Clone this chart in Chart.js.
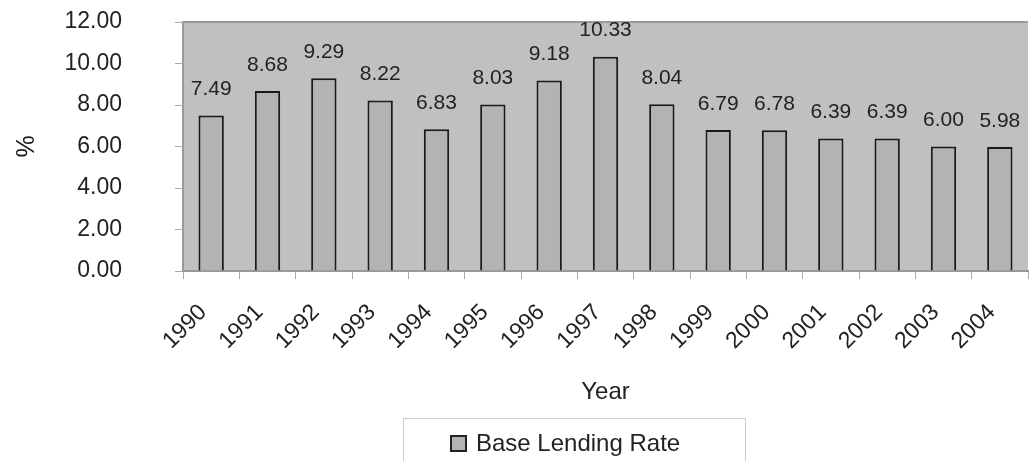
<!DOCTYPE html>
<html>
<head>
<meta charset="utf-8">
<script src="https://cdn.jsdelivr.net/npm/chart.js@4/dist/chart.umd.min.js"></script>
<style>
  body { margin: 0; background: #fff; }
  #wrap { width: 1029px; height: 461px; }
</style>
</head>
<body>
<div id="wrap"><canvas id="rate-chart" width="1029" height="461"></canvas></div>
<script>
// base lending rate per year
const years = ['1990', '1991', '1992', '1993', '1994', '1995', '1996', '1997', '1998', '1999', '2000', '2001', '2002', '2003', '2004'];
const rates = [7.49, 8.68, 9.29, 8.22, 6.83, 8.03, 9.18, 10.33, 8.04, 6.79, 6.78, 6.39, 6.39, 6.00, 5.98];
const yTicks = [0, 2, 4, 6, 8, 10, 12];

const textColor = '#222';
const fontName = '"Liberation Sans", Arial, sans-serif';

// grey plot area with a thin frame
const plotBackground = {
    id: 'plotBackground',
    beforeDraw(chart) {
        const ctx = chart.ctx;
        const a = chart.chartArea;
        ctx.save();
        ctx.fillStyle = '#c0c0c0';
        ctx.fillRect(a.left, a.top, a.right - a.left, a.bottom - a.top);
        ctx.strokeStyle = '#999';
        ctx.lineWidth = 2;
        ctx.beginPath();
        ctx.moveTo(a.left, a.bottom);
        ctx.lineTo(a.left, a.top);
        ctx.lineTo(a.right, a.top);
        ctx.stroke();
        ctx.restore();
    }
};

// value written above each bar
const barValues = {
    id: 'barValues',
    afterDatasetsDraw(chart) {
        const ctx = chart.ctx;
        const meta = chart.getDatasetMeta(0);
        ctx.save();
        ctx.font = '21px ' + fontName;
        ctx.fillStyle = textColor;
        ctx.textAlign = 'center';
        ctx.textBaseline = 'middle';
        meta.data.forEach((bar, i) => {
            ctx.fillText(rates[i].toFixed(2), bar.x, bar.y - 26);
        });
        ctx.restore();
    }
};

// boxed legend under the axis title
const boxLegend = {
    id: 'boxLegend',
    afterDraw(chart) {
        const ctx = chart.ctx;
        const ds = chart.data.datasets[0];
        ctx.save();
        ctx.strokeStyle = '#ccc';
        ctx.lineWidth = 1;
        ctx.strokeRect(403.5, 418.5, 342, 60);
        ctx.fillStyle = ds.backgroundColor;
        ctx.fillRect(451, 436, 15, 15);
        ctx.strokeStyle = textColor;
        ctx.lineWidth = 2;
        ctx.strokeRect(451, 436, 15, 15);
        ctx.font = '24px ' + fontName;
        ctx.fillStyle = textColor;
        ctx.textBaseline = 'middle';
        ctx.fillText(ds.label, 476, 444);
        ctx.restore();
    }
};

let rateChart = new Chart(document.getElementById('rate-chart'), {
    type: 'bar',
    data: {
        labels: years,
        datasets: [{
            label: 'Base Lending Rate',
            data: rates,
            backgroundColor: '#b3b3b3',
            borderColor: '#1a1a1a',
            borderWidth: 2,
            barPercentage: 0.5,
            categoryPercentage: 0.9
        }]
    },
    options: {
        responsive: false,
        animation: false,
        layout: {
            padding: { top: 22, right: 1, bottom: 40, left: 0 }
        },
        plugins: {
            legend: { display: false },
            tooltip: { enabled: false }
        },
        scales: {
            x: {
                grid: {
                    offset: true,
                    drawOnChartArea: false,
                    tickLength: 8,
                    color: '#aaa'
                },
                border: { color: '#999', width: 2 },
                ticks: {
                    maxRotation: 45,
                    minRotation: 45,
                    padding: 20,
                    labelOffset: -8,
                    color: textColor,
                    font: { family: fontName, size: 23 }
                },
                title: {
                    display: true,
                    text: 'Year',
                    color: textColor,
                    padding: { top: 0, bottom: 14 },
                    font: { family: fontName, size: 24 }
                },
                afterFit(scale) {
                    // plot runs right up to the edge
                    scale.height = 150;
                    scale.paddingLeft = 0;
                    scale.paddingRight = 0;
                }
            },
            y: {
                min: 0,
                max: 12,
                afterBuildTicks(scale) {
                    scale.ticks = yTicks.map(v => ({ value: v }));
                },
                grid: {
                    drawOnChartArea: false,
                    tickLength: 8,
                    color: '#aaa'
                },
                border: { display: false },
                ticks: {
                    padding: 53,
                    color: textColor,
                    font: { family: fontName, size: 23 },
                    callback: v => Number(v).toFixed(2)
                },
                title: {
                    display: true,
                    text: '%',
                    color: textColor,
                    padding: { top: 12, bottom: 0 },
                    font: { family: fontName, size: 25 }
                },
                afterFit(scale) {
                    // fixed axis width; the wide label gap should not push the plot down
                    scale.width = 183;
                    scale.paddingTop = 0;
                    scale.paddingBottom = 0;
                }
            }
        }
    },
    plugins: [plotBackground, barValues, boxLegend]
});
</script>
</body>
</html>
